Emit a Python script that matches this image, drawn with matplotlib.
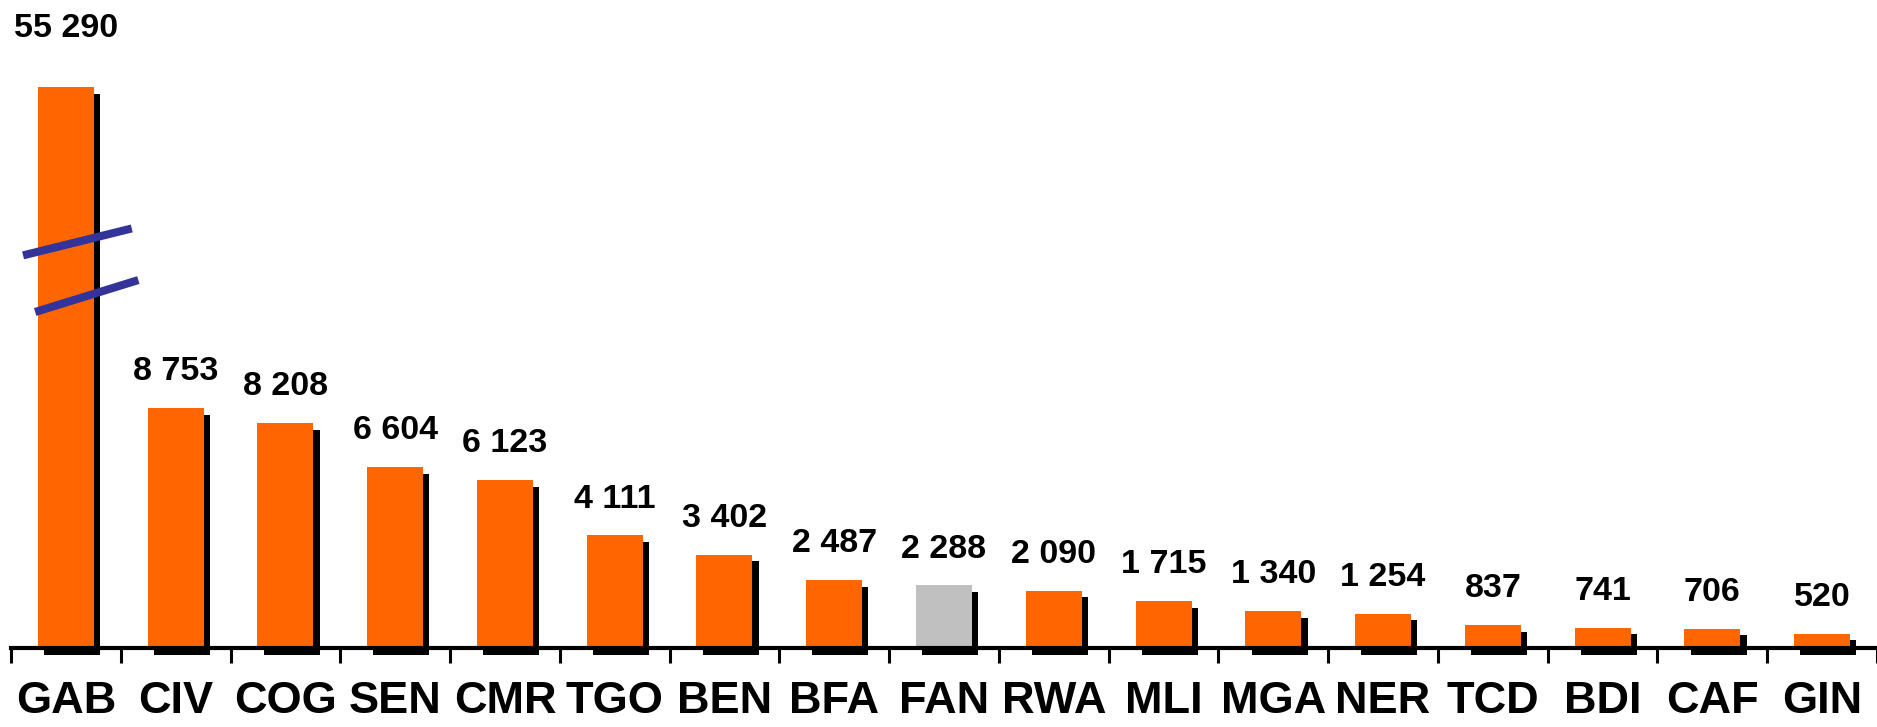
import matplotlib.pyplot as plt
from matplotlib import patheffects as pe

# data
countries = ['GAB', 'CIV', 'COG', 'SEN', 'CMR', 'TGO', 'BEN', 'BFA', 'FAN',
             'RWA', 'MLI', 'MGA', 'NER', 'TCD', 'BDI', 'CAF', 'GIN']
values = [55290, 8753, 8208, 6604, 6123, 4111, 3402, 2487, 2288,
          2090, 1715, 1340, 1254, 837, 741, 706, 520]
highlight = 'FAN'

# the first bar is cut (broken axis)
axis_break = 20470

display = [min(v, axis_break) for v in values]
colors = ['#C0C0C0' if c == highlight else '#FF6600' for c in countries]
x = list(range(len(countries)))

fig = plt.figure(figsize=(18.77, 7.27), dpi=100)
ax = fig.add_axes([0.00586, 0.1087, 0.99414, 0.8913])

bars = ax.bar(x, display, width=0.51, color=colors, zorder=2, clip_on=False)
for b in bars:
    b.set_path_effects([pe.SimplePatchShadow(offset=(4.5, -4.8), shadow_rgbFace='black', alpha=1.0),
                        pe.Normal()])

# value labels
for i, (v, h) in enumerate(zip(values, display)):
    lab = f"{v:,}".replace(',', ' ')
    dy = 36 if v > axis_break else 20
    ax.annotate(lab, (i, h), xytext=(0, dy), textcoords='offset points',
                ha='center', va='baseline', fontsize=24.5, fontweight='bold',
                family=['Liberation Sans Narrow', 'Liberation Sans', 'DejaVu Sans'])

# break marks on the cut bar
for x0, x1, lo, hi in [(-0.39, 0.60, 0.70, 0.748), (-0.28, 0.66, 0.599, 0.656)]:
    ax.plot([x0, x1], [axis_break * lo, axis_break * hi], color='#333399',
            lw=5.8, solid_capstyle='butt', zorder=4, clip_on=False)

ax.set_xlim(-0.5, len(countries) - 0.5)
ax.set_ylim(0, 23650)
ax.set_xticks(x)
ax.set_xticklabels(countries, fontsize=32.5, fontweight='bold', family=['Liberation Sans', 'DejaVu Sans'])
ax.tick_params(axis='x', which='major', length=0, pad=24)
ax.set_xticks([i - 0.5 for i in range(len(countries) + 1)], minor=True)
ax.tick_params(axis='x', which='minor', length=11, width=2.2, direction='out')
ax.set_yticks([])
for s in ['left', 'top', 'right']:
    ax.spines[s].set_visible(False)
ax.spines['bottom'].set_linewidth(3)
ax.spines['bottom'].set_zorder(3)

fig.savefig('out.png', dpi=100)
